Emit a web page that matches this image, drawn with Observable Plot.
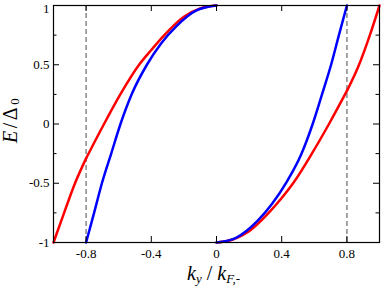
<!DOCTYPE html>
<html>
<head>
<meta charset="utf-8">
<script src="https://cdn.jsdelivr.net/npm/d3@7"></script>
<script src="https://cdn.jsdelivr.net/npm/@observablehq/plot@0.6"></script>
<style>
  html, body { margin: 0; padding: 0; background: #fff; }
</style>
</head>
<body>
<div id="chart"></div>
<script>
// ---- data ----
const kTicks = [-0.8, -0.4, 0, 0.4, 0.8];
const eTicksMajor = [-1, -0.5, 0, 0.5, 1];
const eTicksMinor = [-0.75, -0.25, 0.25, 0.75];
const dashedK = [-0.8, 0.8];

// red branch, k < 0 : below and above the kink at k = -0.8
const redLowLeftK = [-1, -0.935, -0.868, -0.8];
const redLowLeftE = [-1, -0.75, -0.5, -0.29];
const redUpLeftK = [-0.8, -0.69, -0.59, -0.475, -0.4, -0.32, -0.2, -0.1, 0];
const redUpLeftE = [-0.29, 0, 0.25, 0.5, 0.625, 0.75, 0.905, 0.975, 1];
// red branch, k > 0 : below and above the kink at k = 0.8
const redLowRightK = [0, 0.1, 0.2, 0.32, 0.4, 0.47, 0.585, 0.69, 0.806];
const redLowRightE = [-1, -0.975, -0.905, -0.75, -0.625, -0.5, -0.25, 0, 0.295];
const redUpRightK = [0.806, 0.872, 0.943, 1];
const redUpRightE = [0.295, 0.491, 0.758, 1];
// blue branch
const blueLeftK = [-0.8, -0.751, -0.703, -0.645, -0.589, -0.519, -0.427, -0.34, -0.25, -0.12, 0];
const blueLeftE = [-1, -0.75, -0.5, -0.245, 0, 0.255, 0.5, 0.68, 0.82, 0.96, 1];
const blueRightK = [0, 0.12, 0.25, 0.34, 0.43, 0.52, 0.59, 0.645, 0.703, 0.751, 0.8];
const blueRightE = [-1, -0.96, -0.82, -0.675, -0.49, -0.255, 0, 0.24, 0.5, 0.75, 1];

function rows(seg, ks, es) { return ks.map((k, i) => ({seg, k, E: es[i]})); }
const redData = [
  ...rows("rll", redLowLeftK, redLowLeftE),
  ...rows("rul", redUpLeftK, redUpLeftE),
  ...rows("rlr", redLowRightK, redLowRightE),
  ...rows("rur", redUpRightK, redUpRightE)
];
const blueData = [
  ...rows("bl", blueLeftK, blueLeftE),
  ...rows("br", blueRightK, blueRightE)
];

// ---- layout ----
const W = 382, H = 286;
const mL = 53, mR = 3, mT = 5, mB = 44;
const innerW = W - mL - mR, innerH = H - mT - mB;
const serif = "Liberation Serif, Times New Roman, serif";
const fmt = d => String(d);

const chart = Plot.plot({
  width: W,
  height: H,
  marginLeft: mL,
  marginRight: mR,
  marginTop: mT,
  marginBottom: mB,
  style: {fontFamily: serif, fontSize: "13px", background: "#fff", color: "#000", overflow: "visible"},
  x: {domain: [-1, 1], label: null},
  y: {domain: [-1, 1], label: null},
  marks: [
    Plot.ruleX(dashedK, {x: d => d, stroke: "#888", strokeWidth: 1.5, strokeDasharray: "5,3"}),
    Plot.line(redData, {x: "k", y: "E", z: "seg", stroke: "#ff0000", strokeWidth: 2.5, curve: "monotone-x"}),
    Plot.line(blueData, {x: "k", y: "E", z: "seg", stroke: "#0000ff", strokeWidth: 2.5, curve: "monotone-x"}),
    // inward ticks
    Plot.tickX(kTicks, {x: d => d, insetTop: innerH - 6, stroke: "#000"}),
    Plot.tickX(kTicks, {x: d => d, insetBottom: innerH - 6, stroke: "#000"}),
    Plot.tickY(eTicksMajor, {y: d => d, insetRight: innerW - 6, stroke: "#000"}),
    Plot.tickY(eTicksMajor, {y: d => d, insetLeft: innerW - 6, stroke: "#000"}),
    Plot.tickY(eTicksMinor, {y: d => d, insetRight: innerW - 3.5, stroke: "#000"}),
    Plot.tickY(eTicksMinor, {y: d => d, insetLeft: innerW - 3.5, stroke: "#000"}),
    Plot.frame({stroke: "#000", strokeWidth: 1.2}),
    // tick labels
    Plot.axisX(kTicks, {tickSize: 0, tickPadding: 6, tickFormat: fmt, label: null}),
    Plot.axisY(eTicksMajor.filter(d => d !== 1), {tickSize: 0, tickPadding: 4, tickFormat: fmt, label: null}),
    Plot.axisY(eTicksMajor.filter(d => d === 1), {tickSize: 0, tickPadding: 4, tickFormat: fmt, label: null, dy: 3})
  ]
});

document.getElementById("chart").appendChild(chart);

// ---- axis titles ----
const svg = d3.select(chart);
const yt = svg.append("text")
  .attr("transform", "translate(17,143) rotate(-90)")
  .attr("text-anchor", "start")
  .attr("font-family", serif)
  .attr("font-size", 20)
  .attr("letter-spacing", 2.5)
  .attr("fill", "#000");
yt.append("tspan").attr("font-style", "italic").text("E");
yt.append("tspan").text("/Δ");
yt.append("tspan").attr("font-size", 13).attr("dy", 2).text("0");

const xt = svg.append("text")
  .attr("x", 187)
  .attr("y", 280)
  .attr("text-anchor", "start")
  .attr("font-family", serif)
  .attr("font-size", 20)
  .attr("fill", "#000");
xt.append("tspan").attr("font-style", "italic").text("k");
xt.append("tspan").attr("font-style", "italic").attr("font-size", 13).attr("dy", 3).text("y");
xt.append("tspan").attr("dy", -3).text(" / ");
xt.append("tspan").attr("font-style", "italic").text("k");
xt.append("tspan").attr("font-style", "italic").attr("font-size", 13).attr("dy", 3).text("F,-");
</script>
</body>
</html>
